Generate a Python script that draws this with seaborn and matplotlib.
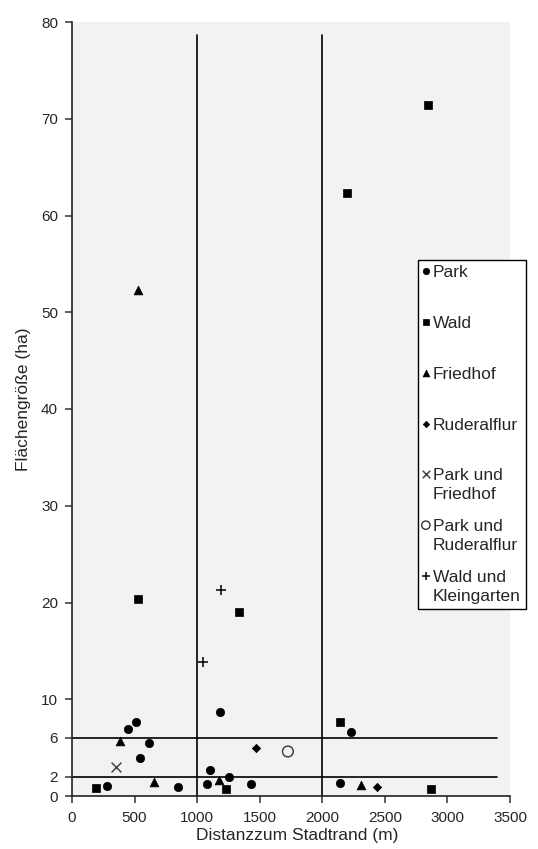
import numpy as np
import pandas as pd
import matplotlib
matplotlib.use("Agg")
import matplotlib.pyplot as plt
import seaborn as sns
from matplotlib.legend_handler import HandlerPathCollection

# Distance to the city edge (m) and area (ha) per green-space type
park_x = [277, 451, 512, 544, 613, 851, 1077, 1099, 1184, 1253, 1429, 2139, 2232]
park_y = [1.06, 6.9, 7.7, 3.9, 5.5, 0.96, 1.2, 2.65, 8.7, 2.0, 1.24, 1.38, 6.6]

wald_x = [190, 531, 1229, 1336, 2139, 2197, 2848, 2869]
wald_y = [0.86, 20.4, 0.7, 19.0, 7.6, 62.3, 71.4, 0.69]

friedhof_x = [384, 525, 659, 1173, 2307]
friedhof_y = [5.7, 52.3, 1.4, 1.7, 1.1]

ruderal_x = [1472, 2437]
ruderal_y = [5.0, 0.96]

park_friedhof_x = [352]
park_friedhof_y = [3.0]

park_ruderal_x = [1725]
park_ruderal_y = [4.6]

wald_kleingarten_x = [1045, 1187]
wald_kleingarten_y = [13.9, 21.3]

categories = ["Park", "Wald", "Friedhof", "Ruderalflur",
              "Park und\nFriedhof", "Park und\nRuderalflur",
              "Wald und\nKleingarten"]

# Threshold lines: distance classes and size classes
dist_bounds = [1000, 2000]
size_bounds = [2, 6]

y_ticks = [0, 2, 6, 10, 20, 30, 40, 50, 60, 70, 80]
x_ticks = [0, 500, 1000, 1500, 2000, 2500, 3000, 3500]

frames = []
for name, xs, ys in [
    (categories[0], park_x, park_y),
    (categories[1], wald_x, wald_y),
    (categories[2], friedhof_x, friedhof_y),
    (categories[3], ruderal_x, ruderal_y),
    (categories[4], park_friedhof_x, park_friedhof_y),
    (categories[5], park_ruderal_x, park_ruderal_y),
    (categories[6], wald_kleingarten_x, wald_kleingarten_y),
]:
    frames.append(pd.DataFrame({"dist": xs, "area": ys, "typ": name}))
df = pd.concat(frames, ignore_index=True)

sns.set_style("white")
plt.rcParams["font.family"] = ["Liberation Sans", "DejaVu Sans"]

fig = plt.figure(figsize=(5.38, 8.49), dpi=100)
ax = fig.add_axes([72 / 538, 1 - 796 / 849, 438 / 538, 774 / 849])
ax.set_facecolor("#f2f2f2")

styles = {
    categories[0]: dict(marker="o", s=36, color="black", edgecolor="black", linewidth=0.5),
    categories[1]: dict(marker="s", s=28, color="black", edgecolor="black", linewidth=0.5),
    categories[2]: dict(marker="^", s=40, color="black", edgecolor="black", linewidth=0.5),
    categories[3]: dict(marker="D", s=18, color="black", edgecolor="black", linewidth=0.5),
    categories[4]: dict(marker="x", s=50, color="#444444", linewidth=1.1),
    categories[5]: dict(marker="o", s=60, color="black", facecolor="none", edgecolor="#333333", linewidth=1.0),
    categories[6]: dict(marker="+", s=60, color="black", linewidth=1.1),
}

line_kw = dict(color="black", linewidth=1.2, zorder=1)
for xb in dist_bounds:
    ax.plot([xb, xb], [0, 78.7], **line_kw)
for yb in size_bounds:
    ax.plot([0, 3400], [yb, yb], **line_kw)

for name in categories:
    sub = df[df["typ"] == name]
    sns.scatterplot(data=sub, x="dist", y="area", ax=ax, label=name,
                    zorder=3, **styles[name])

ax.set_xlim(0, 3500)
ax.set_ylim(0, 80)
ax.set_xticks(x_ticks)
ax.set_yticks(y_ticks)
ax.tick_params(axis="both", direction="out", length=5, width=1.1,
               color="#333333", labelsize=11, labelcolor="#262626",
               left=True, bottom=True)
ax.tick_params(axis="x", pad=6)
ax.tick_params(axis="y", pad=5)
for side in ["top", "right"]:
    ax.spines[side].set_visible(False)
for side in ["left", "bottom"]:
    ax.spines[side].set_color("#222222")
    ax.spines[side].set_linewidth(1.2)

ax.set_xlabel("Distanzzum Stadtrand (m)", fontsize=12.5, color="#262626")
ax.set_ylabel("Flächengröße (ha)", fontsize=12.5, color="#262626")
ax.xaxis.set_label_coords(0.514, -0.041)
ax.yaxis.set_label_coords(-0.094, 0.512)

# Legend: every entry takes two text lines, marker sits on the first line
handles, labels = ax.get_legend_handles_labels()
labels = [l if "\n" in l else l + "\n " for l in labels]
handler_map = {
    h: HandlerPathCollection(yoffsets=[1.38], sizes=[0.6 * h.get_sizes()[0]])
    for h in handles
}
leg = ax.legend(handles, labels, loc="upper left",
                bbox_to_anchor=(0.79, 0.6925), frameon=True, fancybox=False,
                fontsize=12.5, handlelength=0.3, handletextpad=0.25,
                labelspacing=0.99, borderpad=0.3, borderaxespad=0,
                handler_map=handler_map)
frame = leg.get_frame()
frame.set_edgecolor("black")
frame.set_linewidth(1.0)
frame.set_facecolor("white")
frame.set_alpha(1)
leg.set_zorder(5)
for t in leg.get_texts():
    t.set_linespacing(1.3)

fig.savefig("out.png", dpi=100, facecolor="white")
